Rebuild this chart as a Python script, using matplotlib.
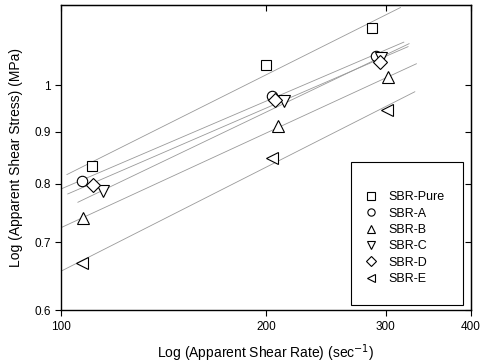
import numpy as np
import matplotlib
matplotlib.use("Agg")
import matplotlib.pyplot as plt
from matplotlib.ticker import FixedLocator, FixedFormatter, NullLocator
from matplotlib.patches import Rectangle

plt.rcParams['font.family'] = ['Liberation Sans', 'DejaVu Sans']

series = ["SBR-Pure", "SBR-A", "SBR-B", "SBR-C", "SBR-D", "SBR-E"]
markers = ["s", "o", "^", "v", "D", "<"]

x_pure = [111.2, 199.8, 286.5]
y_pure = [0.833, 1.048, 1.139]
x_a = [107.5, 203.9, 289.8]
y_a = [0.805, 0.976, 1.069]
x_b = [107.8, 208.5, 302.4]
y_b = [0.740, 0.911, 1.018]
x_c = [115.4, 212.8, 295.0]
y_c = [0.787, 0.964, 1.063]
x_d = [111.5, 206.2, 294.0]
y_d = [0.798, 0.968, 1.055]
x_e = [107.3, 203.9, 300.8]
y_e = [0.668, 0.847, 0.946]

xs = [x_pure, x_a, x_b, x_c, x_d, x_e]
ys = [y_pure, y_a, y_b, y_c, y_d, y_e]

x_ticks = [100, 200, 300, 400]
y_ticks = [0.6, 0.7, 0.8, 0.9, 1.0]
y_tick_labels = ["0.6", "0.7", "0.8", "0.9", "1"]

fig = plt.figure(figsize=(4.88, 3.64), dpi=100)
ax = fig.add_axes([0.125, 0.148, 0.840, 0.838])
ax.set_xscale('log')
ax.set_yscale('log')

for name, m, x, y in zip(series, markers, xs, ys):
    lx = np.log10(x)
    ly = np.log10(y)
    k, b = np.polyfit(lx, ly, 1)
    xx = np.linspace(lx.min() - np.log10(1.09), lx.max() + np.log10(1.1), 50)
    ax.plot(10 ** xx, 10 ** (k * xx + b), color='#999999', lw=0.6, zorder=1)
    ms = 7.5 if m in ("s", "o") else 8.5
    if m == "D":
        ms = 7
    ax.plot(x, y, linestyle='none', marker=m, ms=ms, mfc='white', mec='black',
            mew=0.8, label=name, zorder=2)

ax.set_xlim(100, 400)
ax.set_ylim(0.6, 1.2)
ax.xaxis.set_major_locator(FixedLocator(x_ticks))
ax.xaxis.set_major_formatter(FixedFormatter([str(v) for v in x_ticks]))
ax.xaxis.set_minor_locator(NullLocator())
ax.yaxis.set_major_locator(FixedLocator(y_ticks))
ax.yaxis.set_major_formatter(FixedFormatter(y_tick_labels))
ax.yaxis.set_minor_locator(NullLocator())
ax.tick_params(axis='both', which='major', labelsize=8.5, length=4, width=0.8,
               direction='out', top=False, right=False)

# inward ticks on top/right
axt = ax.secondary_xaxis('top')
axt.set_xticks(x_ticks)
axt.tick_params(direction='in', length=4, width=0.8, labeltop=False)
axt.xaxis.set_minor_locator(NullLocator())
axr = ax.secondary_yaxis('right')
axr.set_yticks(y_ticks)
axr.tick_params(direction='in', length=4, width=0.8, labelright=False)
axr.yaxis.set_minor_locator(NullLocator())

for s in ax.spines.values():
    s.set_linewidth(1.0)

ax.set_xlabel("Log (Apparent Shear Rate) (sec$^{-1}$)", fontsize=10, labelpad=7)
ax.set_ylabel("Log (Apparent Shear Stress) (MPa)", fontsize=10, labelpad=8)

# legend box
ax.add_patch(Rectangle((0.707, 0.016), 0.273, 0.469, transform=ax.transAxes,
                       fill=True, facecolor='white', edgecolor='black', lw=0.8,
                       zorder=3))
leg = ax.legend(loc='upper left', bbox_to_anchor=(0.738, 0.39), fontsize=9,
                frameon=False, markerscale=0.7,
                handlelength=1.2, handletextpad=0.8, labelspacing=0.35,
                borderpad=0, borderaxespad=0)
leg.set_zorder(4)

fig.savefig("out.png", dpi=100)
